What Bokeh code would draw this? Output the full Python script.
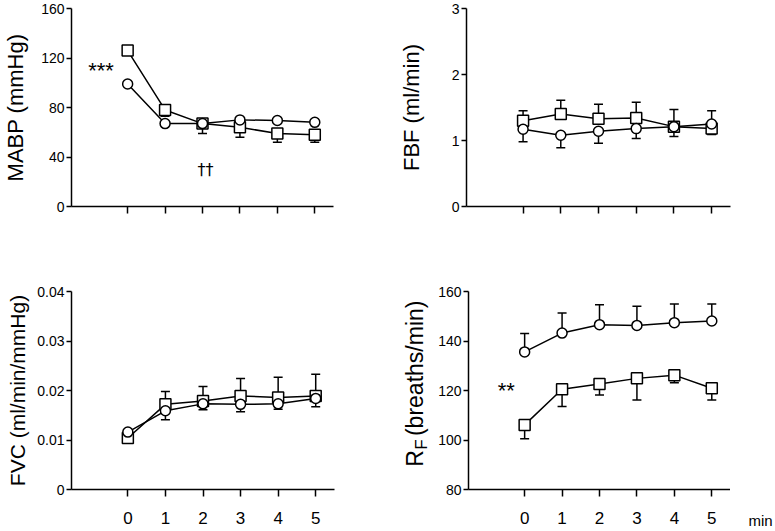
import numpy as np
from bokeh.plotting import figure
from bokeh.models import (ColumnDataSource, Whisker, TeeHead, FixedTicker, Range1d,
                          CustomJSTickFormatter, Label)
from bokeh.layouts import column, row
from bokeh.embed import file_html
from bokeh.resources import INLINE

FONT = "Liberation Sans"

# ---------------- data ----------------
minutes = [0, 1, 2, 3, 4, 5]

# MABP (mmHg)
mabp_square = [126, 78, 67, 64, 59, 58]
mabp_square_sem = [0, 5, 8, 8, 7, 6]          # drawn downward
mabp_circle = [99, 67, 67, 70, 69.5, 68]
mabp_circle_sem = [0, 0, 0, 0, 0, 0]
mabp_ticks = [0, 40, 80, 120, 160]

# FBF (ml/min)
fbf_square = [1.30, 1.40, 1.33, 1.34, 1.21, 1.18]
fbf_square_sem = [0.15, 0.21, 0.22, 0.24, 0.26, 0.27]   # upward
fbf_circle = [1.17, 1.08, 1.14, 1.18, 1.21, 1.25]
fbf_circle_sem = [0.19, 0.19, 0.18, 0.15, 0.15, 0.16]   # downward
fbf_ticks = [0, 1, 2, 3]

# FVC (ml/min/mmHg)
fvc_square = [0.0104, 0.0172, 0.0179, 0.0189, 0.0186, 0.0189]
fvc_square_sem = [0, 0.0026, 0.0029, 0.0035, 0.0041, 0.0044]  # upward
fvc_circle = [0.0116, 0.0159, 0.0173, 0.0172, 0.0173, 0.0184]
fvc_circle_sem = [0, 0.0018, 0.0012, 0.0015, 0.0011, 0.0017]  # downward
fvc_ticks = [0, 0.01, 0.02, 0.03, 0.04]

# RF (breaths/min)
rf_circle = [135.6, 143.2, 146.6, 146.3, 147.4, 148.1]
rf_circle_sem = [7.4, 8.1, 8.0, 7.7, 7.6, 6.9]     # upward
rf_square = [106.1, 120.5, 122.6, 124.9, 126.2, 120.9]
rf_square_sem = [5.6, 7.0, 4.4, 8.7, 3.1, 4.7]     # downward
rf_ticks = [80, 100, 120, 140, 160]
rf_range = (80, 160)


def style_axis(ax):
    ax.axis_line_width = 1.5
    ax.axis_line_color = "black"
    ax.major_tick_line_width = 1.5
    ax.major_tick_line_color = "black"
    ax.major_tick_in = 0
    ax.minor_tick_line_color = None
    ax.major_label_text_font = FONT
    ax.major_label_text_color = "black"


def make_fig(width, height, yr, yticks, ylabel, label_size, asl,
             mbl, mbr, mbt, mbb, show_x_labels, x_tick_out):
    p = figure(width=width, height=height, x_range=Range1d(-1.5, 5.5),
               y_range=Range1d(*yr), output_backend="svg", toolbar_location=None,
               min_border_left=mbl, min_border_right=mbr,
               min_border_top=mbt, min_border_bottom=mbb)
    p.outline_line_color = None
    p.background_fill_color = "white"
    p.border_fill_color = "white"
    p.xgrid.visible = False
    p.ygrid.visible = False
    style_axis(p.xaxis[0])
    style_axis(p.yaxis[0])
    p.xaxis.ticker = FixedTicker(ticks=minutes)
    p.xaxis.major_tick_out = x_tick_out
    if show_x_labels:
        p.xaxis.major_label_text_font_size = "17px"
        p.xaxis.major_label_standoff = 15
    else:
        p.xaxis.formatter = CustomJSTickFormatter(code="return ''")
        p.xaxis.major_label_standoff = 0
    p.yaxis.ticker = FixedTicker(ticks=yticks)
    p.yaxis.major_tick_out = 5
    p.yaxis.major_label_standoff = 2
    p.yaxis.major_label_text_font_size = "14px"
    if ylabel:
        p.yaxis.axis_label = ylabel
        p.yaxis.axis_label_text_font = FONT
        p.yaxis.axis_label_text_font_size = label_size
        p.yaxis.axis_label_text_font_style = "normal"
        p.yaxis.axis_label_text_color = "black"
        p.yaxis.axis_label_standoff = asl
    return p


def add_series(p, y, sem, direction):
    p.line(minutes, y, line_color="black", line_width=1.5)
    keep = [i for i, s in enumerate(sem) if s > 0]
    if keep:
        xs = [minutes[i] for i in keep]
        ys = [y[i] for i in keep]
        ss = [sem[i] for i in keep]
        if direction > 0:
            lower, upper = ys, [a + b for a, b in zip(ys, ss)]
            uh, lh = TeeHead(size=9, line_width=1.5, line_color="black"), None
        else:
            lower, upper = [a - b for a, b in zip(ys, ss)], ys
            uh, lh = None, TeeHead(size=9, line_width=1.5, line_color="black")
        src = ColumnDataSource(dict(x=xs, lower=lower, upper=upper))
        w = Whisker(source=src, base="x", lower="lower", upper="upper",
                    line_color="black", line_width=1.5,
                    upper_head=uh, lower_head=lh, level="underlay")
        p.add_layout(w)


def add_markers(p, y, marker, size):
    p.scatter(minutes, y, marker=marker, size=size, fill_color="white",
              line_color="black", line_width=1.5)


def text(p, x, y, t, size, align="center", baseline="alphabetic", angle=0.0, font=FONT):
    p.add_layout(Label(x=x, y=y, text=t, text_font=font, text_font_size=size,
                       text_align=align, text_baseline=baseline, angle=angle,
                       text_color="black"))


def strip_fig(width, height, yr, with_xaxis=False):
    f = figure(width=width, height=height, x_range=Range1d(0, width),
               y_range=Range1d(*yr), output_backend="svg",
               toolbar_location=None, x_axis_type=("linear" if with_xaxis else None),
               y_axis_type=None,
               min_border_left=0, min_border_right=0,
               min_border_top=0, min_border_bottom=0)
    f.outline_line_color = None
    f.xgrid.visible = False
    f.ygrid.visible = False
    f.background_fill_color = "white"
    f.border_fill_color = "white"
    return f


# ---------------- panels ----------------
TH, BH = 258, 273

p1 = make_fig(393, TH, (0, 160), mabp_ticks, "MABP (mmHg)", "22px", 10,
              68, 60, 8, 52, False, 7)
add_series(p1, mabp_square, mabp_square_sem, -1)
add_series(p1, mabp_circle, mabp_circle_sem, -1)
add_markers(p1, mabp_square, "square", 11)
add_markers(p1, mabp_circle, "circle", 10)
text(p1, -0.71, 110, "***", "22px")
text(p1, 2.08, 29.6, "††", "16px", font="DejaVu Sans")

p2 = make_fig(382, TH, (0, 3), fbf_ticks, "FBF (ml/min)", "22px", 25,
              73, 45, 8, 52, False, 7)
add_series(p2, fbf_square, fbf_square_sem, 1)
add_series(p2, fbf_circle, fbf_circle_sem, -1)
add_markers(p2, fbf_square, "square", 11)
add_markers(p2, fbf_circle, "circle", 10)

p3 = make_fig(393, BH, (0, 0.04), fvc_ticks, "FVC (ml/min/mmHg)", "21px", 5,
              71, 59, 33, 41, True, 7)
p3.yaxis.formatter = CustomJSTickFormatter(code="return tick == 0 ? '0' : tick.toFixed(2)")
add_series(p3, fvc_square, fvc_square_sem, 1)
add_series(p3, fvc_circle, fvc_circle_sem, -1)
add_markers(p3, fvc_square, "square", 11)
add_markers(p3, fvc_circle, "circle", 10)

# left strip holding the R_F axis title (with subscript); shares the RF y scale
rf_lab = strip_fig(42, BH, rf_range)
text(rf_lab, 21.5, 89.2, "R", "23px", align="left", angle=np.pi / 2)
text(rf_lab, 27.5, 96.1, "F", "17px", align="left", angle=np.pi / 2)
text(rf_lab, 21.5, 101.6, "(breaths/min)", "23px", align="left", angle=np.pi / 2)

p4 = make_fig(295, BH, rf_range, rf_ticks, "", "22px", 4,
              32, 0, 33, 41, True, 7)
add_series(p4, rf_circle, rf_circle_sem, 1)
add_series(p4, rf_square, rf_square_sem, -1)
add_markers(p4, rf_square, "square", 11)
add_markers(p4, rf_circle, "circle", 10)
text(p4, -0.49, 119.8, "**", "22px")

# right strip holding the x unit as a tick label aligned with the minute labels
min_lab = strip_fig(45, BH, rf_range, with_xaxis=True)
ax = min_lab.xaxis[0]
ax.ticker = FixedTicker(ticks=[30])
ax.formatter = CustomJSTickFormatter(code="return 'min'")
ax.axis_line_color = None
ax.major_tick_line_color = None
ax.minor_tick_line_color = None
ax.major_tick_in = 0
ax.major_tick_out = 7
ax.major_label_standoff = 15
ax.major_label_text_font = FONT
ax.major_label_text_font_size = "15px"
ax.major_label_text_color = "black"

layout = column(row(p1, p2), row(p3, rf_lab, p4, min_lab))

open("out.html", "w").write(file_html(layout, INLINE))
